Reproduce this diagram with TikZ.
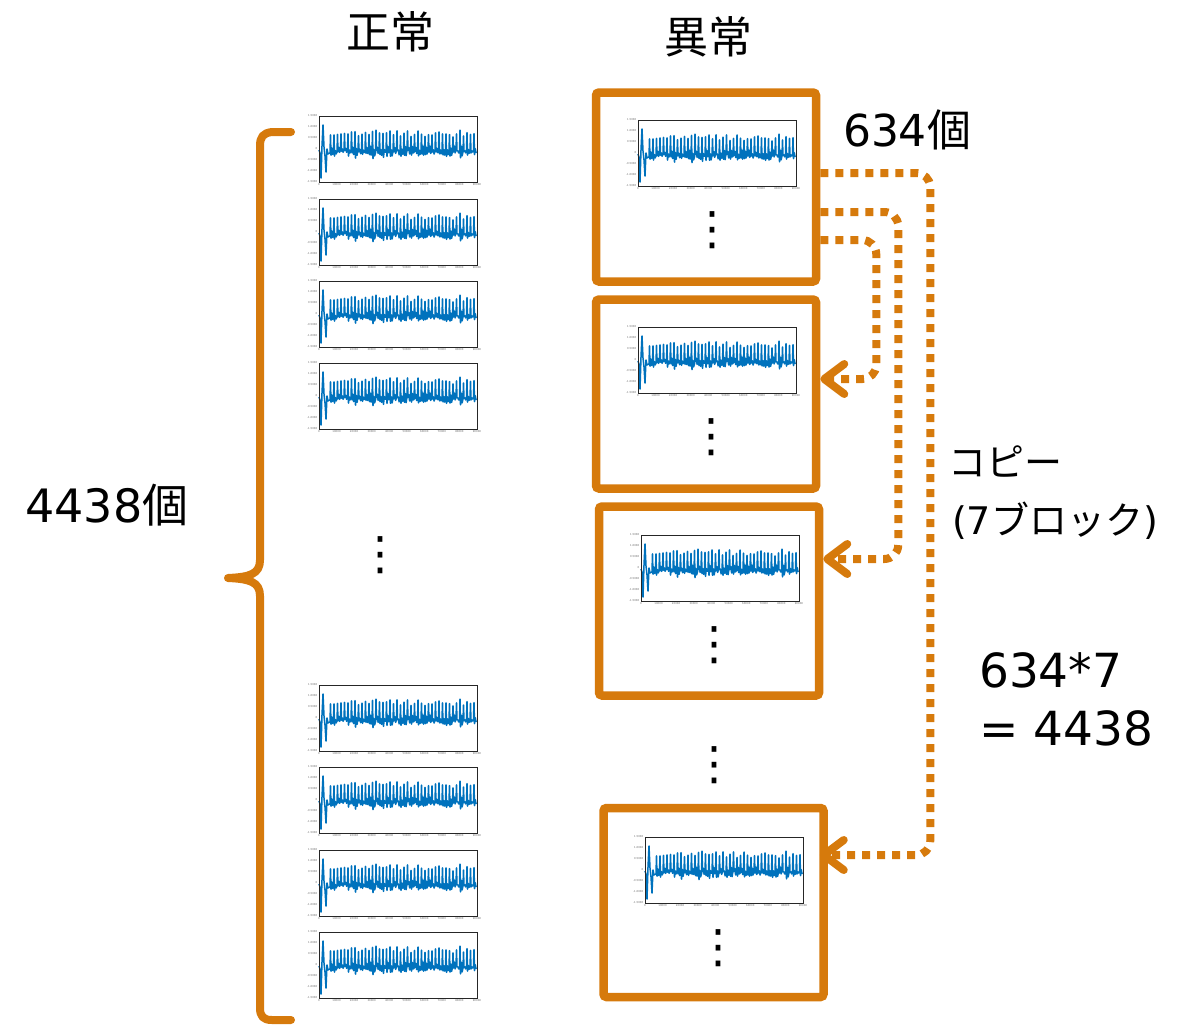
\documentclass[tikz,border=0pt]{standalone}
\usepackage{fontspec}
\setmainfont{DejaVu Sans}
\newfontfamily\jpfont{Noto Sans CJK JP}
\usepackage{xcolor}
\usetikzlibrary{positioning,arrows.meta}
\definecolor{boxorange}{RGB}{214,122,12}
\definecolor{sigblue}{RGB}{0,114,189}

\tikzset{
  sigline/.style={draw=sigblue,line width=1.5pt,line join=round},
  axisline/.style={draw=black!85,line width=0.6pt},
  ticklab/.style={font=\fontsize{2.6}{3}\selectfont,text=black!60,inner sep=0.5pt},
  sig/.pic={
    \pgfmathsetseed{11}
    \draw[sigline] (0,34) -- (1,37) -- (2,62) -- (3,30) -- (4,9) -- (5,31) -- (6,40) -- (7,56) -- (8,33) -- (9,38)
      \foreach \i in {0,...,41}{ -- ({11+\i*3.5},{33+4*rnd}) -- ({11.5+\i*3.5},{14+7*rnd}) -- ({12+\i*3.5},{34+9*rnd}) -- ({12.8+\i*3.5},{30+5*rnd}) -- ({13.6+\i*3.5},{36+4*rnd}) };
    \draw[axisline] (0,0) rectangle (158,66);
    \foreach \v [count=\k from 0] in {1.5000,1.0000,0.5000,0,-0.5000,-1.0000,-1.5000}
      \node[ticklab,anchor=east] (y\k) at (-1,{\k*11}) {\v};
    \foreach \v [count=\k from 0] in {0,10000,20000,30000,40000,50000,60000,70000,80000,90000}
      \node[ticklab,anchor=north] (x\k) at ({\k*17.55},67) {\v};
  }
}

\begin{document}
\begin{tikzpicture}[x=1pt,y=-1pt,
  >={Straight Barb[length=20pt,width=30pt,round]},
  abox/.style={draw=boxorange,line width=8.5pt,rounded corners=3pt,minimum width=220pt,minimum height=189pt,inner sep=0pt},
  cp/.style={draw=boxorange,line width=8pt,dash pattern=on 8pt off 7pt,rounded corners=14pt,->},
  brc/.style={draw=boxorange,line width=8pt,line cap=round,line join=round},
  title/.style={font=\jpfont\fontsize{44}{50}\selectfont},
  lab/.style={font=\fontsize{46}{52}\selectfont},
  side/.style={font=\fontsize{38}{44}\selectfont},
  num/.style={font=\fontsize{47}{52}\selectfont,anchor=base west,inner sep=0pt},
  vd/.style={font=\fontsize{46}{50}\selectfont,inner sep=0pt}]
\useasboundingbox (0,0) rectangle (1183,1025);

\node[title] (tn) at (390,32) {正常};
\node[title] (ta) at (708,37) {異常};

\pic (n1) at (319,116) {sig};
\pic (n2) at (319,199) {sig};
\pic (n3) at (319,281) {sig};
\pic (n4) at (319,363) {sig};
\pic (n5) at (319,685) {sig};
\pic (n6) at (319,767) {sig};
\pic (n7) at (319,850) {sig};
\pic (n8) at (319,932) {sig};
\node[vd] (dn) at (380,555) {⋮};

\draw[brc] (291,132) -- (272,132) .. controls (263,133) and (260,137) .. (260,146) -- (260,560)
  .. controls (260,574) and (250,577) .. (228,578) .. controls (250,579) and (260,582) .. (260,596)
  -- (260,1008) .. controls (260,1016) and (263,1020) .. (272,1020) -- (291,1020);
\node[lab] (total) at (107,505) {4438{\jpfont 個}};

\node[abox] (b1) at (706,187) {};
\node[abox] (b2) at (706,394) {};
\node[abox] (b3) at (709,601) {};
\node[abox] (b4) at (713.5,902.5) {};

\pic (a1) at (638,120) {sig};
\pic (a2) at (638,327) {sig};
\pic (a3) at (641,535) {sig};
\pic (a4) at (645,837) {sig};
\node[vd] (d1) at (712,230) {⋮};
\node[vd] (d2) at (711,437) {⋮};
\node[vd] (d3) at (714,645) {⋮};
\node[vd] (dm) at (714,765) {⋮};
\node[vd] (d4) at (718,948) {⋮};

\draw[cp] ([yshift=-53pt]b1.east) -- ++(56,0) |- ([yshift=15pt]b2.east);
\draw[cp] ([yshift=-25pt]b1.east) -- ++(78,0) |- ([yshift=42pt]b3.east);
\draw[cp] ([yshift=14pt]b1.east) -- ++(110,0) |- ([xshift=-8pt,yshift=47.5pt]b4.east);

\node[lab,font=\fontsize{44}{50}\selectfont] (cnt) at (907,130) {634{\jpfont 個}};
\node[side,font=\jpfont\fontsize{38}{44}\selectfont] (copy) at (1005,462) {コピー};
\node[side] (blk) at (1055,521) {(7{\jpfont ブロック})};
\node[num] (mul) at (979,687) {634*7};
\node[num] (res) at (979,745) {= 4438};
\end{tikzpicture}
\end{document}
